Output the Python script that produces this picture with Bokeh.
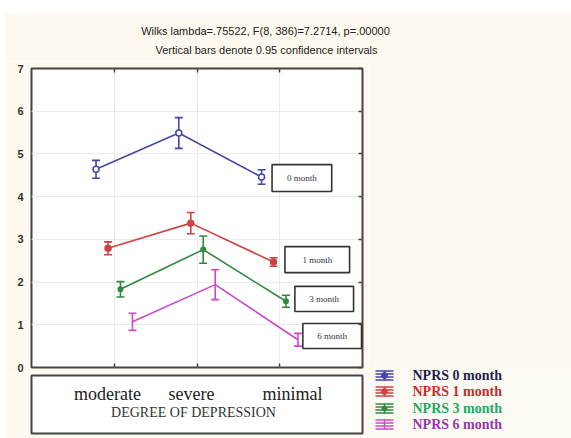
from bokeh.plotting import figure
from bokeh.layouts import column, row
from bokeh.models import (ColumnDataSource, Whisker, TeeHead, Range1d,
                          LinearAxis, FixedTicker, CustomJSTickFormatter)
from bokeh.core.properties import value
from bokeh.embed import file_html
from bokeh.resources import INLINE

# ---------------- data ----------------
categories = ["moderate", "severe", "minimal"]
series_names = ["NPRS 0 month", "NPRS 1 month", "NPRS 3 month", "NPRS 6 month"]
box_labels = ["0 month", "1 month", "3 month", "6 month"]

nprs_0 = [4.64, 5.49, 4.46]
ci_0 = [0.21, 0.36, 0.17]
nprs_1 = [2.79, 3.38, 2.47]
ci_1 = [0.15, 0.25, 0.10]
nprs_3 = [1.83, 2.76, 1.55]
ci_3 = [0.18, 0.32, 0.14]
nprs_6 = [1.07, 1.94, 0.65]
ci_6 = [0.20, 0.35, 0.15]

y_ticks = [0, 1, 2, 3, 4, 5, 6, 7]
title_1 = "Wilks lambda=.75522, F(8, 386)=7.2714, p=.00000"
title_2 = "Vertical bars denote 0.95 confidence intervals"
x_title = "DEGREE OF DEPRESSION"

# ---------------- styles ----------------
CREAM = "#fdf9ee"
LEG_BG = "#fbfbf3"
FRAME = "#444444"
line_colors = ["#4545aa", "#cc4444", "#2e8a3c", "#cc48cc"]
text_colors = ["#1e1e4e", "#cc2a2a", "#22a862", "#9a36aa"]
dodge = [-0.22, -0.075, 0.075, 0.22]
markers = [("circle", 6, "white"), ("circle", 6, None), ("circle", 4.5, None), (None, 0, None)]
box_pos = [(2.907, 3.628, 4.75, 4.12), (3.063, 3.844, 2.83, 2.22),
           (3.183, 3.892, 1.90, 1.31), (3.279, 3.988, 1.03, 0.445)]

values = [nprs_0, nprs_1, nprs_3, nprs_6]
cis = [ci_0, ci_1, ci_3, ci_6]

common = dict(output_backend="svg", toolbar_location=None)
blank = CustomJSTickFormatter(code="return ''")

# ---------------- title strip ----------------
fig_top = figure(width=566, height=48, x_range=Range1d(0, 566), y_range=Range1d(48, 0),
                 x_axis_type=None, y_axis_type=None, min_border=0,
                 border_fill_color=CREAM, background_fill_color=CREAM,
                 outline_line_color=None, **common)
fig_top.text(x=[260, 261], y=[17, 36], text=[title_1, title_2], text_align="center",
             text_baseline="middle", text_font=value("Liberation Sans"),
             text_font_size="11px", text_color="#222222")

# ---------------- main plot ----------------
p = figure(width=363, height=313, x_range=Range1d(0, 4), y_range=Range1d(0, 7),
           min_border_left=26, min_border_right=4, min_border_top=7, min_border_bottom=7,
           border_fill_color=CREAM, background_fill_color="white",
           outline_line_color=FRAME, outline_line_width=2, **common)

cat_ticker = FixedTicker(ticks=[1, 2, 3])
y_ticker = FixedTicker(ticks=y_ticks)

p.xaxis.ticker = cat_ticker
p.xaxis.formatter = blank
p.xaxis.major_label_standoff = 0
p.xaxis.major_tick_in = 4
p.xaxis.major_tick_out = 0
p.xaxis.minor_tick_line_color = None
p.xaxis.axis_line_color = None
p.xaxis.major_tick_line_color = FRAME
p.xaxis.major_tick_line_width = 1.5

p.yaxis.ticker = y_ticker
p.yaxis.major_tick_in = 0
p.yaxis.major_tick_out = 0
p.yaxis.minor_tick_line_color = None
p.yaxis.axis_line_color = None
p.yaxis.major_label_standoff = 8
p.yaxis.major_label_text_font = "Liberation Sans"
p.yaxis.major_label_text_font_style = "bold"
p.yaxis.major_label_text_font_size = "11px"
p.yaxis.major_label_text_color = "#333333"

top_axis = LinearAxis(ticker=cat_ticker, formatter=blank,
                      major_label_standoff=0, major_tick_in=4, major_tick_out=0,
                      minor_tick_line_color=None, axis_line_color=None,
                      major_tick_line_color=FRAME, major_tick_line_width=1.5)
p.add_layout(top_axis, "above")
right_axis = LinearAxis(ticker=y_ticker, formatter=blank,
                        major_label_standoff=0, major_tick_in=4, major_tick_out=0,
                        minor_tick_line_color=None, axis_line_color=None,
                        major_tick_line_color=FRAME, major_tick_line_width=1.5)
p.add_layout(right_axis, "right")

p.xgrid.ticker = cat_ticker
p.ygrid.ticker = y_ticker
p.grid.grid_line_color = "#ebebeb"
p.grid.grid_line_width = 1

for i in range(4):
    xs = [k + 1 + dodge[i] for k in range(len(categories))]
    ys = values[i]
    src = ColumnDataSource(dict(x=xs, y=ys,
                                lo=[v - c for v, c in zip(ys, cis[i])],
                                hi=[v + c for v, c in zip(ys, cis[i])]))
    c = line_colors[i]
    p.line("x", "y", source=src, line_color=c, line_width=1.6)
    w = Whisker(base="x", upper="hi", lower="lo", source=src, dimension="height",
                line_color=c, line_width=1.6,
                upper_head=TeeHead(size=8, line_color=c, line_width=1.6),
                lower_head=TeeHead(size=8, line_color=c, line_width=1.6))
    p.add_layout(w)
    mk, sz, fill = markers[i]
    if mk:
        p.scatter("x", "y", source=src, marker=mk, size=sz, line_color=c,
                  fill_color=fill if fill else c, line_width=1.5)

bl = [b[0] for b in box_pos]
br = [b[1] for b in box_pos]
bt = [b[2] for b in box_pos]
bb = [b[3] for b in box_pos]
p.quad(left=bl, right=br, top=bt, bottom=bb, fill_color="white",
       line_color="#333333", line_width=1.6)
p.text(x=[(a + b) / 2 for a, b in zip(bl, br)], y=[(a + b) / 2 for a, b in zip(bt, bb)],
       text=box_labels, text_align="center", text_baseline="middle",
       text_font=value("Liberation Serif"), text_font_size="9px", text_color="#333333")

# ---------------- x-axis label box ----------------
fig_x = figure(width=363, height=64, x_range=Range1d(0, 4), y_range=Range1d(58, 0),
               x_axis_type=None, y_axis_type=None,
               min_border_left=26, min_border_right=6, min_border_top=1, min_border_bottom=5,
               border_fill_color=CREAM, background_fill_color="white",
               outline_line_color=FRAME, outline_line_width=2, **common)
fig_x.text(x=[0.918, 1.934, 3.154], y=[18, 18, 18], text=categories, text_align="center",
           text_baseline="middle", text_font=value("Liberation Serif"),
           text_font_size="18px", text_color="#222222")
fig_x.text(x=[1.958], y=[37], text=[x_title], text_align="center", text_baseline="middle",
           text_font=value("Liberation Serif"), text_font_size="14px", text_color="#333333")

# ---------------- right panel with legend ----------------
fig_l = figure(width=203, height=377, x_range=Range1d(0, 203), y_range=Range1d(377, 0),
               x_axis_type=None, y_axis_type=None, min_border=0,
               border_fill_color=CREAM, background_fill_color=CREAM,
               outline_line_color=None, **common)
fig_l.quad(left=[2], right=[203], top=[304], bottom=[377], fill_color=LEG_BG, line_color=None)
row_y = [314, 330, 347, 363]
for i in range(4):
    c = line_colors[i]
    yc = row_y[i]
    offs = (-4.5, -1.5, 1.5, 4.5)
    fig_l.segment(x0=[7] * 4, x1=[25] * 4, y0=[yc + d for d in offs],
                  y1=[yc + d for d in offs], line_color=c, line_width=1.3)
    fig_l.segment(x0=[16], x1=[16], y0=[yc - 5], y1=[yc + 5], line_color=c, line_width=1.3)
    mk, sz, fill = markers[i]
    if mk:
        fig_l.scatter([16], [yc], marker=mk, size=max(sz, 5), line_color=c, fill_color=c)
fig_l.text(x=[44] * 4, y=row_y, text=series_names, text_align="left",
           text_baseline="middle", text_font=value("Liberation Serif"),
           text_font_style="bold", text_font_size="14px", text_color=text_colors)

layout = column(fig_top, row(column(p, fig_x), fig_l), margin=(13, 0, 0, 5))

open("out.html", "w").write(file_html(layout, INLINE))
